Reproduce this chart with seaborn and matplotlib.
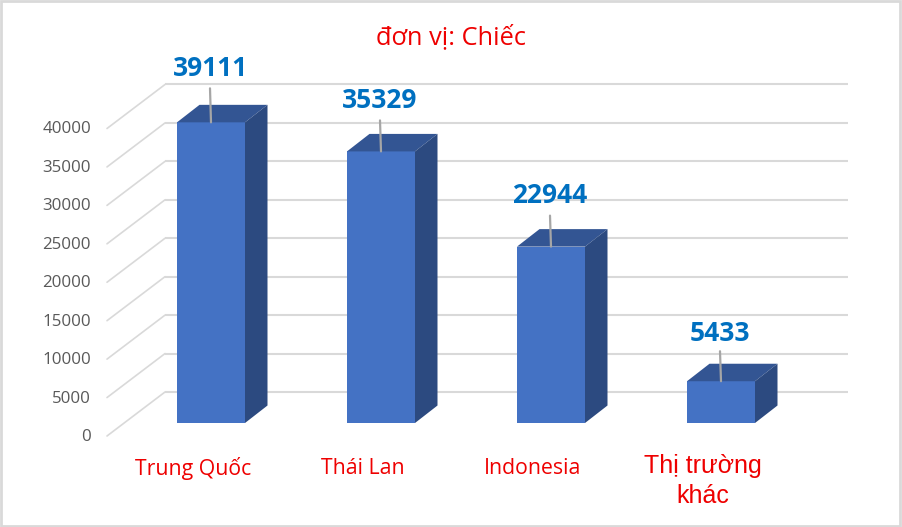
import matplotlib
matplotlib.use("Agg")
import matplotlib.pyplot as plt
import pandas as pd
import seaborn as sns
from matplotlib.patches import Polygon, Rectangle
from matplotlib.transforms import Affine2D

markets = ["Trung Quốc", "Thái Lan", "Indonesia", "Thị trường\nkhác"]
units = [39111, 35329, 22944, 5433]
y_ticks = [0, 5000, 10000, 15000, 20000, 25000, 30000, 35000, 40000]
title = "đơn vị: Chiếc"

# hand placed data labels: px above the bar top, differ per bar in the original
label_gap = [54, 51, 51, 48]
leader_gap = [34, 31, 31, 30]

W, H = 902, 527
sns.set_theme(style="white")
plt.rcParams["font.family"] = ["Open Sans", "DejaVu Sans"]

fig = plt.figure(figsize=(W / 100, H / 100), dpi=100, facecolor="white")
# axes box: value 0 sits on the bar bottoms (y=423), 40000 is 307 px above
ax = fig.add_axes([126 / W, 1 - 423 / H, 680 / W, 307.5 / H])
df = pd.DataFrame({"market": markets, "units": units})
half = 0.2
sns.barplot(data=df, x="market", y="units", color="#4472C4", saturation=1,
            width=half * 2, linewidth=0, ax=ax, zorder=3)
ax.set_xlim(-0.5, 3.5)
ax.set_ylim(0, 40000)
ax.axis("off")


def shifted(dx, dy):
    # pixel offset on top of data coords (y up)
    return ax.transData + Affine2D().translate(dx, dy)


# back wall gridlines + floor diagonals
to_x = ax.transData.inverted()
x_back = to_x.transform((165, 0))[0]
x_end = to_x.transform((848, 0))[0]
x_front = to_x.transform((107, 0))[0]
for v in y_ticks:
    ax.plot([x_back, x_end], [v, v], color="#D9D9D9", lw=1.5, clip_on=False,
            transform=shifted(0, 31), zorder=1, solid_capstyle="butt")
    x0, y0 = shifted(0, -13).transform((x_front, v))
    x1, y1 = shifted(0, 31).transform((x_back, v))
    fig.add_artist(plt.Line2D([x0 / W, x1 / W], [y0 / H, y1 / H], color="#D9D9D9", lw=1.2))
    fig.text(91 / W, (y0 - 1) / H, str(v), ha="right", va="center", fontsize=12.2, color="#595959")

# side and top faces of the bars, labels with their leader lines
dx, dy = 22.5, 17.5
for i, v in enumerate(units):
    top = [(i - half, v), (i + half, v)]
    l, r = ax.transData.transform(top)
    base = ax.transData.transform((i + half, 0))
    fig_px = fig.transFigure.inverted()
    top_pts = [l, r, r + (dx, dy), l + (dx, dy)]
    side_pts = [r, r + (dx, dy), base + (dx, dy), base]
    fig.add_artist(Polygon(fig_px.transform(top_pts), closed=True, transform=fig.transFigure,
                           fc="#335593", ec="none", zorder=4))
    fig.add_artist(Polygon(fig_px.transform(side_pts), closed=True, transform=fig.transFigure,
                           fc="#2C4A80", ec="none", zorder=4))
    cx = (l[0] + r[0]) / 2
    fig.add_artist(plt.Line2D([cx / W, (cx - 1) / W], [l[1] / H, (l[1] + leader_gap[i]) / H],
                              color="#A6A6A6", lw=1.6, zorder=5))
    fig.text((cx - 1) / W, (l[1] + label_gap[i]) / H, str(v), ha="center", va="center",
             fontsize=19, fontweight="bold", color="#0070C0", zorder=6)
    # the last label is in a different font in the original
    if "\n" in markets[i]:
        fig.text((cx - 18) / W, 1 - 481 / H, markets[i], ha="center", va="center",
                 fontsize=18, color="#EE0000", family=["Liberation Sans", "DejaVu Sans"],
                 linespacing=1.3, zorder=6)
    else:
        fig.text((cx - 18) / W, 1 - 468 / H, markets[i], ha="center", va="center",
                 fontsize=15.3, color="#EE0000", zorder=6)

fig.text(451 / W, 1 - 37 / H, title, ha="center", va="center", fontsize=18.3, color="#EE0000")

# chart frame
fig.add_artist(Rectangle((1 / W, 1.5 / H), 899 / W, 524.5 / H, transform=fig.transFigure,
                         fc="none", ec="#D9D9D9", lw=2))

fig.savefig("out.png", dpi=100)
